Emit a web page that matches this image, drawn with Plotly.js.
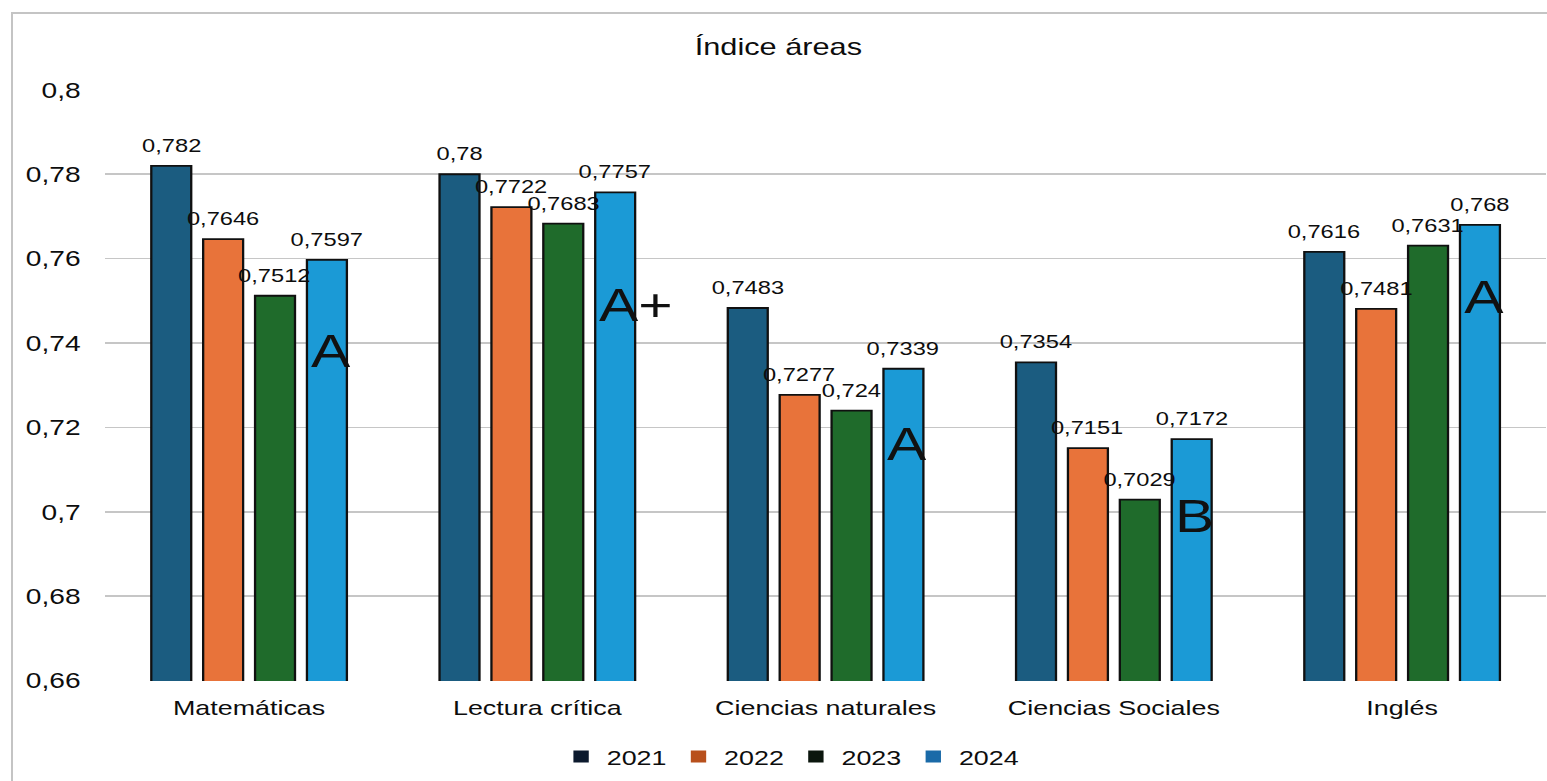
<!DOCTYPE html>
<html>
<head>
<meta charset="utf-8">
<script src="https://cdn.plot.ly/plotly-3.0.1.min.js"></script>
<style>
  html, body { margin: 0; padding: 0; background: #fff; overflow: hidden; }
  #frame { position: absolute; left: 11px; top: 12px; width: 1560px; height: 800px;
           border-left: 2px solid #c4c4c4; border-top: 2px solid #c4c4c4; pointer-events: none; }
  #chart { position: absolute; left: 0; top: 0; transform-origin: 0 0; transform: scaleX(1.28); }
</style>
</head>
<body>
<div id="chart"></div>
<div id="frame"></div>
<script>
// ---- data ----
const categories = ['Matemáticas', 'Lectura crítica', 'Ciencias naturales', 'Ciencias Sociales', 'Inglés'];
const years = ['2021', '2022', '2023', '2024'];
const v2021 = [0.782, 0.78, 0.7483, 0.7354, 0.7616];
const v2022 = [0.7646, 0.7722, 0.7277, 0.7151, 0.7481];
const v2023 = [0.7512, 0.7683, 0.724, 0.7029, 0.7631];
const v2024 = [0.7597, 0.7757, 0.7339, 0.7172, 0.768];
const grades = ['A', 'A+', 'A', 'B', 'A'];
const gradeLevels = [0.738, 0.749, 0.716, 0.699, 0.751];
const yTicks = [0.66, 0.68, 0.70, 0.72, 0.74, 0.76, 0.78, 0.80];

// ---- styling ----
const S = 1.28;                 // horizontal stretch of the reference
const W = Math.round(1547 / S);
const H = 781;
const M = {l: 82, r: 1, t: 89, b: 100};
const BARGAP = 0.28, GROUPGAP = 0.23;
const colors = ['#1b5c80', '#e8733a', '#1f6b2b', '#1b9ad6'];
const legendColors = ['#0c1a2e', '#b8501c', '#0b160d', '#1a6aa8'];
const series = [v2021, v2022, v2023, v2024];
const fmt = v => String(v).replace('.', ',');
const FONT = 'Liberation Sans, Arial, sans-serif';
const TXT = '#0d0d0d';

// slot offsets of the grouped bars (pixels in the un-stretched frame)
const catW = (W - M.l - M.r) / categories.length;
const pitch = catW * (1 - BARGAP) / series.length;
const slotShift = i => (i - (series.length - 1) / 2) * pitch;

const traces = [];
series.forEach((vals, i) => {
  traces.push({
    type: 'bar', name: years[i], x: categories, y: vals,
    offsetgroup: years[i], showlegend: false,
    marker: {color: colors[i], line: {color: '#101010', width: 1.8}},
    hoverinfo: 'x+y'
  });
});
// legend-only entries (darker swatches as in the reference)
series.forEach((vals, i) => {
  traces.push({
    type: 'bar', name: years[i], x: [categories[0]], y: [null],
    offsetgroup: years[i], showlegend: true,
    marker: {color: legendColors[i], line: {color: legendColors[i], width: 0}},
    hoverinfo: 'skip'
  });
});

const annotations = [];
series.forEach((vals, i) => {
  vals.forEach((v, j) => {
    annotations.push({
      x: categories[j], y: v, xref: 'x', yref: 'y',
      text: fmt(v), showarrow: false, xanchor: 'center', yanchor: 'bottom',
      xshift: slotShift(i), yshift: 8,
      font: {family: FONT, size: 18.5, color: TXT}
    });
  });
});
grades.forEach((g, j) => {
  annotations.push({
    x: categories[j], y: gradeLevels[j], xref: 'x', yref: 'y',
    text: g, showarrow: false, xanchor: 'left', yanchor: 'middle',
    xshift: slotShift(series.length - 1) - pitch * (1 - GROUPGAP) / 2 + 1,
    font: {family: FONT, size: 46, color: '#111'}
  });
});

const layout = {
  width: W, height: H,
  margin: M,
  paper_bgcolor: '#fff', plot_bgcolor: '#fff',
  separators: ',.',
  barmode: 'group',
  bargap: BARGAP,
  bargroupgap: GROUPGAP,
  font: {family: FONT, color: TXT},
  title: {text: 'Índice áreas', x: 0.503, xref: 'container', y: 1 - 47 / H, yref: 'container',
          yanchor: 'middle', xanchor: 'center', font: {family: FONT, size: 24, color: TXT}},
  xaxis: {
    type: 'category', showgrid: false, zeroline: false, showline: false, ticks: '',
    tickfont: {family: FONT, size: 21, color: TXT}, ticklabelstandoff: 12
  },
  yaxis: {
    range: [0.6599, 0.8002], tickvals: yTicks, ticktext: yTicks.map(v => fmt(+v.toFixed(2))),
    showgrid: true, gridcolor: '#c6c6c6', gridwidth: 1.5, zeroline: false, showline: false, ticks: '',
    tickfont: {family: FONT, size: 22, color: TXT}, ticklabelstandoff: 18
  },
  legend: {orientation: 'h', x: 0.476, xanchor: 'center', y: -0.128, yanchor: 'middle',
           font: {family: FONT, size: 21, color: TXT}, itemwidth: 30, traceorder: 'normal'},
  annotations: annotations,
  showlegend: true
};

Plotly.newPlot('chart', traces, layout, {displayModeBar: false, staticPlot: true});
</script>
</body>
</html>
